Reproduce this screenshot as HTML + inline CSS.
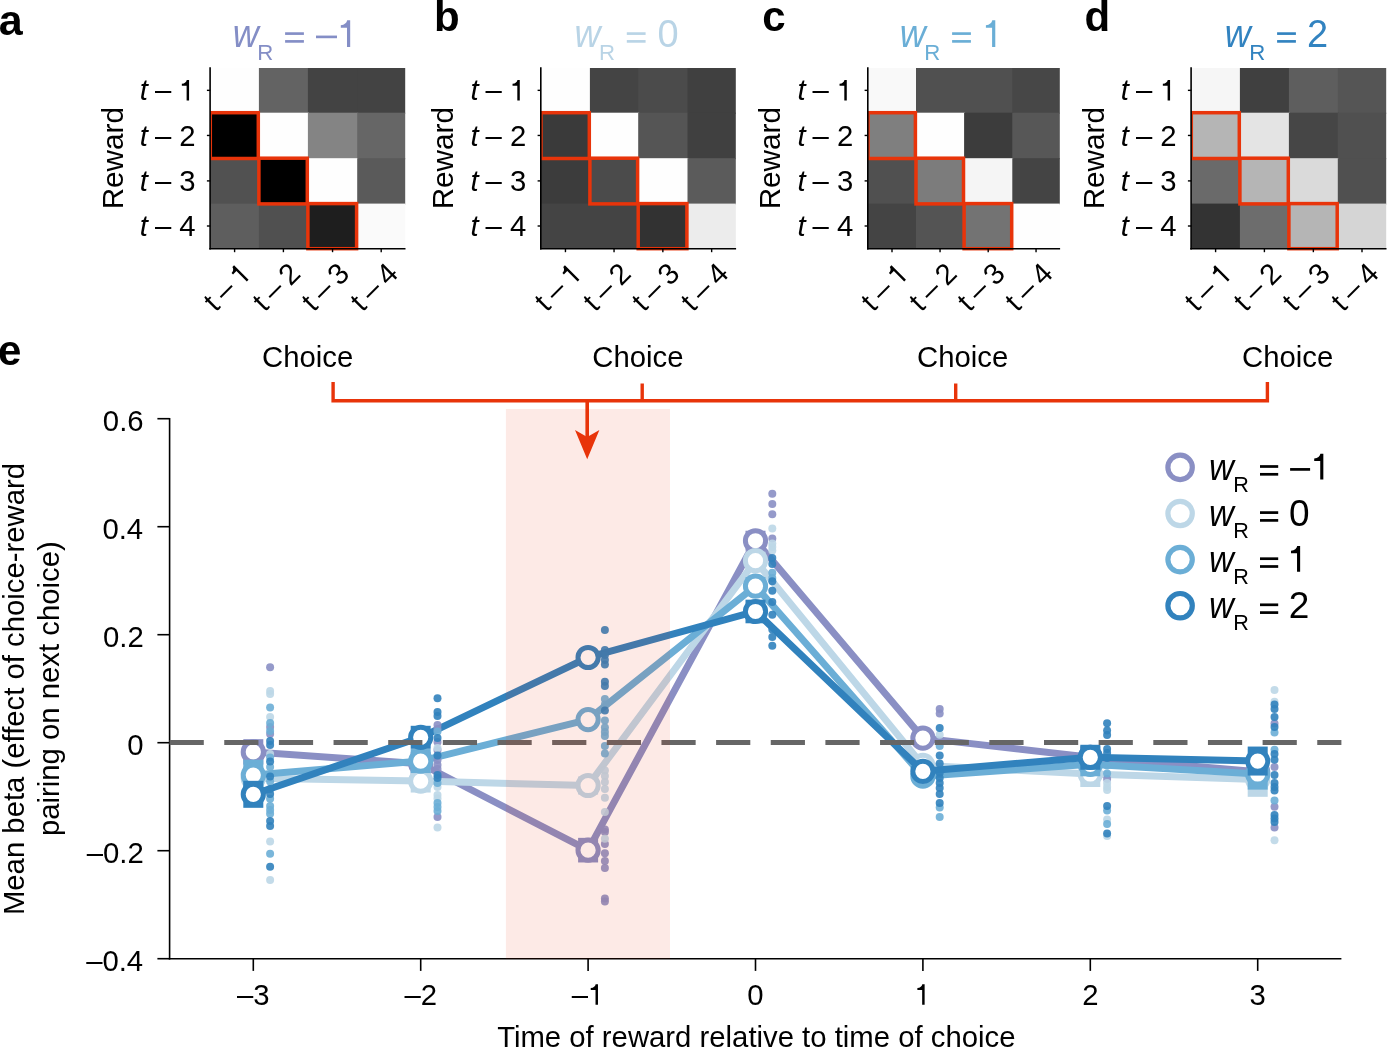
<!DOCTYPE html>
<html><head><meta charset="utf-8"><style>
html,body{margin:0;padding:0;background:#fff;}
svg{display:block;will-change:transform;}
text{font-family:"Liberation Sans", sans-serif;}
</style></head><body>
<svg width="1387" height="1048" viewBox="0 0 1387 1048" font-family="&quot;Liberation Sans&quot;, sans-serif">
<rect width="1387" height="1048" fill="#fff"/>
<rect x="210.30" y="68.00" width="49.60" height="45.70" fill="rgb(254,254,254)"/>
<rect x="258.90" y="68.00" width="50.00" height="45.70" fill="rgb(99,99,99)"/>
<rect x="307.90" y="68.00" width="50.30" height="45.70" fill="rgb(67,67,67)"/>
<rect x="357.20" y="68.00" width="48.00" height="45.70" fill="rgb(67,67,67)"/>
<rect x="210.30" y="112.70" width="49.60" height="46.50" fill="rgb(0,0,0)"/>
<rect x="258.90" y="112.70" width="50.00" height="46.50" fill="rgb(254,254,254)"/>
<rect x="307.90" y="112.70" width="50.30" height="46.50" fill="rgb(132,132,132)"/>
<rect x="357.20" y="112.70" width="48.00" height="46.50" fill="rgb(102,102,102)"/>
<rect x="210.30" y="158.20" width="49.60" height="46.40" fill="rgb(81,81,81)"/>
<rect x="258.90" y="158.20" width="50.00" height="46.40" fill="rgb(0,0,0)"/>
<rect x="307.90" y="158.20" width="50.30" height="46.40" fill="rgb(254,254,254)"/>
<rect x="357.20" y="158.20" width="48.00" height="46.40" fill="rgb(90,90,90)"/>
<rect x="210.30" y="203.60" width="49.60" height="44.80" fill="rgb(94,94,94)"/>
<rect x="258.90" y="203.60" width="50.00" height="44.80" fill="rgb(80,80,80)"/>
<rect x="307.90" y="203.60" width="50.30" height="44.80" fill="rgb(30,30,30)"/>
<rect x="357.20" y="203.60" width="48.00" height="44.80" fill="rgb(250,250,250)"/>
<clipPath id="clipa"><rect x="210.30" y="0" width="300" height="300"/></clipPath>
<g clip-path="url(#clipa)">
<rect x="210.30" y="112.70" width="48.00" height="45.80" fill="none" stroke="#e8340a" stroke-width="3.5"/>
<rect x="258.90" y="158.20" width="48.40" height="45.70" fill="none" stroke="#e8340a" stroke-width="3.5"/>
<rect x="307.90" y="203.60" width="48.70" height="45.10" fill="none" stroke="#e8340a" stroke-width="3.5"/>
</g>
<line x1="210.10" y1="67.3" x2="210.10" y2="249.4" stroke="#000" stroke-width="1.6"/>
<line x1="209.30" y1="248.7" x2="405.50" y2="248.7" stroke="#000" stroke-width="1.6"/>
<line x1="206.90" y1="90.35" x2="210.30" y2="90.35" stroke="#000" stroke-width="1.4"/>
<line x1="206.90" y1="135.45" x2="210.30" y2="135.45" stroke="#000" stroke-width="1.4"/>
<line x1="206.90" y1="180.90" x2="210.30" y2="180.90" stroke="#000" stroke-width="1.4"/>
<line x1="206.90" y1="226.00" x2="210.30" y2="226.00" stroke="#000" stroke-width="1.4"/>
<line x1="234.60" y1="248.7" x2="234.60" y2="252.2" stroke="#000" stroke-width="1.4"/>
<line x1="283.40" y1="248.7" x2="283.40" y2="252.2" stroke="#000" stroke-width="1.4"/>
<line x1="332.55" y1="248.7" x2="332.55" y2="252.2" stroke="#000" stroke-width="1.4"/>
<line x1="381.20" y1="248.7" x2="381.20" y2="252.2" stroke="#000" stroke-width="1.4"/>
<path d="M0.247,0 L0.247,0.70 L0.168,0.70 C0.153,0.628 0.100,0.578 0,0.572 L0,0.502 L0.163,0.502 L0.163,0 Z" fill="#000" transform="translate(181.84,100.45) scale(29.3,-29.3)"/>
<text x="154.90" y="100.45" font-size="29.3">–</text>
<text x="139.76" y="100.45" font-size="29.3" font-weight="normal" font-style="italic" fill="#000" >t</text>
<text x="179.20" y="145.55" font-size="29.3">2</text>
<text x="154.90" y="145.55" font-size="29.3">–</text>
<text x="139.76" y="145.55" font-size="29.3" font-weight="normal" font-style="italic" fill="#000" >t</text>
<text x="179.20" y="191.00" font-size="29.3">3</text>
<text x="154.90" y="191.00" font-size="29.3">–</text>
<text x="139.76" y="191.00" font-size="29.3" font-weight="normal" font-style="italic" fill="#000" >t</text>
<text x="179.20" y="236.10" font-size="29.3">4</text>
<text x="154.90" y="236.10" font-size="29.3">–</text>
<text x="139.76" y="236.10" font-size="29.3" font-weight="normal" font-style="italic" fill="#000" >t</text>
<g transform="translate(253.10,275.20) rotate(-45)">
<text x="-53.05" y="0" font-size="29.3">t</text>
<text x="-38.75" y="0" font-size="29.3">–</text>
<path d="M0.247,0 L0.247,0.70 L0.168,0.70 C0.153,0.628 0.100,0.578 0,0.572 L0,0.502 L0.163,0.502 L0.163,0 Z" fill="#000" transform="translate(-13.66,0.00) scale(29.3,-29.3)"/>
</g>
<g transform="translate(301.90,275.20) rotate(-45)">
<text x="-53.05" y="0" font-size="29.3">t</text>
<text x="-38.75" y="0" font-size="29.3">–</text>
<text x="-16.3" y="0" font-size="29.3">2</text>
</g>
<g transform="translate(351.05,275.20) rotate(-45)">
<text x="-53.05" y="0" font-size="29.3">t</text>
<text x="-38.75" y="0" font-size="29.3">–</text>
<text x="-16.3" y="0" font-size="29.3">3</text>
</g>
<g transform="translate(399.70,275.20) rotate(-45)">
<text x="-53.05" y="0" font-size="29.3">t</text>
<text x="-38.75" y="0" font-size="29.3">–</text>
<text x="-16.3" y="0" font-size="29.3">4</text>
</g>
<text x="0" y="0" font-size="29.7" text-anchor="middle" transform="translate(122.50,158.20) rotate(-90)">Reward</text>
<rect x="541.00" y="68.00" width="49.90" height="45.70" fill="rgb(254,254,254)"/>
<rect x="589.90" y="68.00" width="49.30" height="45.70" fill="rgb(68,68,68)"/>
<rect x="638.20" y="68.00" width="50.30" height="45.70" fill="rgb(75,75,75)"/>
<rect x="687.50" y="68.00" width="48.30" height="45.70" fill="rgb(64,64,64)"/>
<rect x="541.00" y="112.70" width="49.90" height="46.50" fill="rgb(58,58,58)"/>
<rect x="589.90" y="112.70" width="49.30" height="46.50" fill="rgb(254,254,254)"/>
<rect x="638.20" y="112.70" width="50.30" height="46.50" fill="rgb(85,85,85)"/>
<rect x="687.50" y="112.70" width="48.30" height="46.50" fill="rgb(64,64,64)"/>
<rect x="541.00" y="158.20" width="49.90" height="46.40" fill="rgb(60,60,60)"/>
<rect x="589.90" y="158.20" width="49.30" height="46.40" fill="rgb(75,75,75)"/>
<rect x="638.20" y="158.20" width="50.30" height="46.40" fill="rgb(254,254,254)"/>
<rect x="687.50" y="158.20" width="48.30" height="46.40" fill="rgb(91,91,91)"/>
<rect x="541.00" y="203.60" width="49.90" height="44.80" fill="rgb(68,68,68)"/>
<rect x="589.90" y="203.60" width="49.30" height="44.80" fill="rgb(68,68,68)"/>
<rect x="638.20" y="203.60" width="50.30" height="44.80" fill="rgb(50,50,50)"/>
<rect x="687.50" y="203.60" width="48.30" height="44.80" fill="rgb(236,236,236)"/>
<clipPath id="clipb"><rect x="541.00" y="0" width="300" height="300"/></clipPath>
<g clip-path="url(#clipb)">
<rect x="541.00" y="112.70" width="48.30" height="45.80" fill="none" stroke="#e8340a" stroke-width="3.5"/>
<rect x="589.90" y="158.20" width="47.70" height="45.70" fill="none" stroke="#e8340a" stroke-width="3.5"/>
<rect x="638.20" y="203.60" width="48.70" height="45.10" fill="none" stroke="#e8340a" stroke-width="3.5"/>
</g>
<line x1="540.80" y1="67.3" x2="540.80" y2="249.4" stroke="#000" stroke-width="1.6"/>
<line x1="540.00" y1="248.7" x2="736.10" y2="248.7" stroke="#000" stroke-width="1.6"/>
<line x1="537.60" y1="90.35" x2="541.00" y2="90.35" stroke="#000" stroke-width="1.4"/>
<line x1="537.60" y1="135.45" x2="541.00" y2="135.45" stroke="#000" stroke-width="1.4"/>
<line x1="537.60" y1="180.90" x2="541.00" y2="180.90" stroke="#000" stroke-width="1.4"/>
<line x1="537.60" y1="226.00" x2="541.00" y2="226.00" stroke="#000" stroke-width="1.4"/>
<line x1="565.45" y1="248.7" x2="565.45" y2="252.2" stroke="#000" stroke-width="1.4"/>
<line x1="614.05" y1="248.7" x2="614.05" y2="252.2" stroke="#000" stroke-width="1.4"/>
<line x1="662.85" y1="248.7" x2="662.85" y2="252.2" stroke="#000" stroke-width="1.4"/>
<line x1="711.65" y1="248.7" x2="711.65" y2="252.2" stroke="#000" stroke-width="1.4"/>
<path d="M0.247,0 L0.247,0.70 L0.168,0.70 C0.153,0.628 0.100,0.578 0,0.572 L0,0.502 L0.163,0.502 L0.163,0 Z" fill="#000" transform="translate(512.54,100.45) scale(29.3,-29.3)"/>
<text x="485.60" y="100.45" font-size="29.3">–</text>
<text x="470.46" y="100.45" font-size="29.3" font-weight="normal" font-style="italic" fill="#000" >t</text>
<text x="509.90" y="145.55" font-size="29.3">2</text>
<text x="485.60" y="145.55" font-size="29.3">–</text>
<text x="470.46" y="145.55" font-size="29.3" font-weight="normal" font-style="italic" fill="#000" >t</text>
<text x="509.90" y="191.00" font-size="29.3">3</text>
<text x="485.60" y="191.00" font-size="29.3">–</text>
<text x="470.46" y="191.00" font-size="29.3" font-weight="normal" font-style="italic" fill="#000" >t</text>
<text x="509.90" y="236.10" font-size="29.3">4</text>
<text x="485.60" y="236.10" font-size="29.3">–</text>
<text x="470.46" y="236.10" font-size="29.3" font-weight="normal" font-style="italic" fill="#000" >t</text>
<g transform="translate(583.95,275.20) rotate(-45)">
<text x="-53.05" y="0" font-size="29.3">t</text>
<text x="-38.75" y="0" font-size="29.3">–</text>
<path d="M0.247,0 L0.247,0.70 L0.168,0.70 C0.153,0.628 0.100,0.578 0,0.572 L0,0.502 L0.163,0.502 L0.163,0 Z" fill="#000" transform="translate(-13.66,0.00) scale(29.3,-29.3)"/>
</g>
<g transform="translate(632.55,275.20) rotate(-45)">
<text x="-53.05" y="0" font-size="29.3">t</text>
<text x="-38.75" y="0" font-size="29.3">–</text>
<text x="-16.3" y="0" font-size="29.3">2</text>
</g>
<g transform="translate(681.35,275.20) rotate(-45)">
<text x="-53.05" y="0" font-size="29.3">t</text>
<text x="-38.75" y="0" font-size="29.3">–</text>
<text x="-16.3" y="0" font-size="29.3">3</text>
</g>
<g transform="translate(730.15,275.20) rotate(-45)">
<text x="-53.05" y="0" font-size="29.3">t</text>
<text x="-38.75" y="0" font-size="29.3">–</text>
<text x="-16.3" y="0" font-size="29.3">4</text>
</g>
<text x="0" y="0" font-size="29.7" text-anchor="middle" transform="translate(453.20,158.20) rotate(-90)">Reward</text>
<rect x="868.00" y="68.00" width="49.00" height="45.70" fill="rgb(249,249,249)"/>
<rect x="916.00" y="68.00" width="49.10" height="45.70" fill="rgb(80,80,80)"/>
<rect x="964.10" y="68.00" width="49.20" height="45.70" fill="rgb(80,80,80)"/>
<rect x="1012.30" y="68.00" width="47.50" height="45.70" fill="rgb(71,71,71)"/>
<rect x="868.00" y="112.70" width="49.00" height="46.50" fill="rgb(127,127,127)"/>
<rect x="916.00" y="112.70" width="49.10" height="46.50" fill="rgb(254,254,254)"/>
<rect x="964.10" y="112.70" width="49.20" height="46.50" fill="rgb(60,60,60)"/>
<rect x="1012.30" y="112.70" width="47.50" height="46.50" fill="rgb(87,87,87)"/>
<rect x="868.00" y="158.20" width="49.00" height="46.40" fill="rgb(80,80,80)"/>
<rect x="916.00" y="158.20" width="49.10" height="46.40" fill="rgb(124,124,124)"/>
<rect x="964.10" y="158.20" width="49.20" height="46.40" fill="rgb(245,245,245)"/>
<rect x="1012.30" y="158.20" width="47.50" height="46.40" fill="rgb(68,68,68)"/>
<rect x="868.00" y="203.60" width="49.00" height="44.80" fill="rgb(68,68,68)"/>
<rect x="916.00" y="203.60" width="49.10" height="44.80" fill="rgb(84,84,84)"/>
<rect x="964.10" y="203.60" width="49.20" height="44.80" fill="rgb(115,115,115)"/>
<rect x="1012.30" y="203.60" width="47.50" height="44.80" fill="rgb(254,254,254)"/>
<clipPath id="clipc"><rect x="868.00" y="0" width="300" height="300"/></clipPath>
<g clip-path="url(#clipc)">
<rect x="868.00" y="112.70" width="47.40" height="45.80" fill="none" stroke="#e8340a" stroke-width="3.5"/>
<rect x="916.00" y="158.20" width="47.50" height="45.70" fill="none" stroke="#e8340a" stroke-width="3.5"/>
<rect x="964.10" y="203.60" width="47.60" height="45.10" fill="none" stroke="#e8340a" stroke-width="3.5"/>
</g>
<line x1="867.80" y1="67.3" x2="867.80" y2="249.4" stroke="#000" stroke-width="1.6"/>
<line x1="867.00" y1="248.7" x2="1060.10" y2="248.7" stroke="#000" stroke-width="1.6"/>
<line x1="864.60" y1="90.35" x2="868.00" y2="90.35" stroke="#000" stroke-width="1.4"/>
<line x1="864.60" y1="135.45" x2="868.00" y2="135.45" stroke="#000" stroke-width="1.4"/>
<line x1="864.60" y1="180.90" x2="868.00" y2="180.90" stroke="#000" stroke-width="1.4"/>
<line x1="864.60" y1="226.00" x2="868.00" y2="226.00" stroke="#000" stroke-width="1.4"/>
<line x1="892.00" y1="248.7" x2="892.00" y2="252.2" stroke="#000" stroke-width="1.4"/>
<line x1="940.05" y1="248.7" x2="940.05" y2="252.2" stroke="#000" stroke-width="1.4"/>
<line x1="988.20" y1="248.7" x2="988.20" y2="252.2" stroke="#000" stroke-width="1.4"/>
<line x1="1036.05" y1="248.7" x2="1036.05" y2="252.2" stroke="#000" stroke-width="1.4"/>
<path d="M0.247,0 L0.247,0.70 L0.168,0.70 C0.153,0.628 0.100,0.578 0,0.572 L0,0.502 L0.163,0.502 L0.163,0 Z" fill="#000" transform="translate(839.54,100.45) scale(29.3,-29.3)"/>
<text x="812.60" y="100.45" font-size="29.3">–</text>
<text x="797.46" y="100.45" font-size="29.3" font-weight="normal" font-style="italic" fill="#000" >t</text>
<text x="836.90" y="145.55" font-size="29.3">2</text>
<text x="812.60" y="145.55" font-size="29.3">–</text>
<text x="797.46" y="145.55" font-size="29.3" font-weight="normal" font-style="italic" fill="#000" >t</text>
<text x="836.90" y="191.00" font-size="29.3">3</text>
<text x="812.60" y="191.00" font-size="29.3">–</text>
<text x="797.46" y="191.00" font-size="29.3" font-weight="normal" font-style="italic" fill="#000" >t</text>
<text x="836.90" y="236.10" font-size="29.3">4</text>
<text x="812.60" y="236.10" font-size="29.3">–</text>
<text x="797.46" y="236.10" font-size="29.3" font-weight="normal" font-style="italic" fill="#000" >t</text>
<g transform="translate(910.50,275.20) rotate(-45)">
<text x="-53.05" y="0" font-size="29.3">t</text>
<text x="-38.75" y="0" font-size="29.3">–</text>
<path d="M0.247,0 L0.247,0.70 L0.168,0.70 C0.153,0.628 0.100,0.578 0,0.572 L0,0.502 L0.163,0.502 L0.163,0 Z" fill="#000" transform="translate(-13.66,0.00) scale(29.3,-29.3)"/>
</g>
<g transform="translate(958.55,275.20) rotate(-45)">
<text x="-53.05" y="0" font-size="29.3">t</text>
<text x="-38.75" y="0" font-size="29.3">–</text>
<text x="-16.3" y="0" font-size="29.3">2</text>
</g>
<g transform="translate(1006.70,275.20) rotate(-45)">
<text x="-53.05" y="0" font-size="29.3">t</text>
<text x="-38.75" y="0" font-size="29.3">–</text>
<text x="-16.3" y="0" font-size="29.3">3</text>
</g>
<g transform="translate(1054.55,275.20) rotate(-45)">
<text x="-53.05" y="0" font-size="29.3">t</text>
<text x="-38.75" y="0" font-size="29.3">–</text>
<text x="-16.3" y="0" font-size="29.3">4</text>
</g>
<text x="0" y="0" font-size="29.7" text-anchor="middle" transform="translate(780.20,158.20) rotate(-90)">Reward</text>
<rect x="1191.30" y="68.00" width="49.60" height="45.70" fill="rgb(246,246,246)"/>
<rect x="1239.90" y="68.00" width="50.00" height="45.70" fill="rgb(64,64,64)"/>
<rect x="1288.90" y="68.00" width="49.90" height="45.70" fill="rgb(94,94,94)"/>
<rect x="1337.80" y="68.00" width="48.40" height="45.70" fill="rgb(85,85,85)"/>
<rect x="1191.30" y="112.70" width="49.60" height="46.50" fill="rgb(181,181,181)"/>
<rect x="1239.90" y="112.70" width="50.00" height="46.50" fill="rgb(228,228,228)"/>
<rect x="1288.90" y="112.70" width="49.90" height="46.50" fill="rgb(70,70,70)"/>
<rect x="1337.80" y="112.70" width="48.40" height="46.50" fill="rgb(80,80,80)"/>
<rect x="1191.30" y="158.20" width="49.60" height="46.40" fill="rgb(106,106,106)"/>
<rect x="1239.90" y="158.20" width="50.00" height="46.40" fill="rgb(181,181,181)"/>
<rect x="1288.90" y="158.20" width="49.90" height="46.40" fill="rgb(218,218,218)"/>
<rect x="1337.80" y="158.20" width="48.40" height="46.40" fill="rgb(80,80,80)"/>
<rect x="1191.30" y="203.60" width="49.60" height="44.80" fill="rgb(51,51,51)"/>
<rect x="1239.90" y="203.60" width="50.00" height="44.80" fill="rgb(109,109,109)"/>
<rect x="1288.90" y="203.60" width="49.90" height="44.80" fill="rgb(181,181,181)"/>
<rect x="1337.80" y="203.60" width="48.40" height="44.80" fill="rgb(213,213,213)"/>
<clipPath id="clipd"><rect x="1191.30" y="0" width="300" height="300"/></clipPath>
<g clip-path="url(#clipd)">
<rect x="1191.30" y="112.70" width="48.00" height="45.80" fill="none" stroke="#e8340a" stroke-width="3.5"/>
<rect x="1239.90" y="158.20" width="48.40" height="45.70" fill="none" stroke="#e8340a" stroke-width="3.5"/>
<rect x="1288.90" y="203.60" width="48.30" height="45.10" fill="none" stroke="#e8340a" stroke-width="3.5"/>
</g>
<line x1="1191.10" y1="67.3" x2="1191.10" y2="249.4" stroke="#000" stroke-width="1.6"/>
<line x1="1190.30" y1="248.7" x2="1386.50" y2="248.7" stroke="#000" stroke-width="1.6"/>
<line x1="1187.90" y1="90.35" x2="1191.30" y2="90.35" stroke="#000" stroke-width="1.4"/>
<line x1="1187.90" y1="135.45" x2="1191.30" y2="135.45" stroke="#000" stroke-width="1.4"/>
<line x1="1187.90" y1="180.90" x2="1191.30" y2="180.90" stroke="#000" stroke-width="1.4"/>
<line x1="1187.90" y1="226.00" x2="1191.30" y2="226.00" stroke="#000" stroke-width="1.4"/>
<line x1="1215.60" y1="248.7" x2="1215.60" y2="252.2" stroke="#000" stroke-width="1.4"/>
<line x1="1264.40" y1="248.7" x2="1264.40" y2="252.2" stroke="#000" stroke-width="1.4"/>
<line x1="1313.35" y1="248.7" x2="1313.35" y2="252.2" stroke="#000" stroke-width="1.4"/>
<line x1="1362.00" y1="248.7" x2="1362.00" y2="252.2" stroke="#000" stroke-width="1.4"/>
<path d="M0.247,0 L0.247,0.70 L0.168,0.70 C0.153,0.628 0.100,0.578 0,0.572 L0,0.502 L0.163,0.502 L0.163,0 Z" fill="#000" transform="translate(1162.84,100.45) scale(29.3,-29.3)"/>
<text x="1135.90" y="100.45" font-size="29.3">–</text>
<text x="1120.76" y="100.45" font-size="29.3" font-weight="normal" font-style="italic" fill="#000" >t</text>
<text x="1160.20" y="145.55" font-size="29.3">2</text>
<text x="1135.90" y="145.55" font-size="29.3">–</text>
<text x="1120.76" y="145.55" font-size="29.3" font-weight="normal" font-style="italic" fill="#000" >t</text>
<text x="1160.20" y="191.00" font-size="29.3">3</text>
<text x="1135.90" y="191.00" font-size="29.3">–</text>
<text x="1120.76" y="191.00" font-size="29.3" font-weight="normal" font-style="italic" fill="#000" >t</text>
<text x="1160.20" y="236.10" font-size="29.3">4</text>
<text x="1135.90" y="236.10" font-size="29.3">–</text>
<text x="1120.76" y="236.10" font-size="29.3" font-weight="normal" font-style="italic" fill="#000" >t</text>
<g transform="translate(1234.10,275.20) rotate(-45)">
<text x="-53.05" y="0" font-size="29.3">t</text>
<text x="-38.75" y="0" font-size="29.3">–</text>
<path d="M0.247,0 L0.247,0.70 L0.168,0.70 C0.153,0.628 0.100,0.578 0,0.572 L0,0.502 L0.163,0.502 L0.163,0 Z" fill="#000" transform="translate(-13.66,0.00) scale(29.3,-29.3)"/>
</g>
<g transform="translate(1282.90,275.20) rotate(-45)">
<text x="-53.05" y="0" font-size="29.3">t</text>
<text x="-38.75" y="0" font-size="29.3">–</text>
<text x="-16.3" y="0" font-size="29.3">2</text>
</g>
<g transform="translate(1331.85,275.20) rotate(-45)">
<text x="-53.05" y="0" font-size="29.3">t</text>
<text x="-38.75" y="0" font-size="29.3">–</text>
<text x="-16.3" y="0" font-size="29.3">3</text>
</g>
<g transform="translate(1380.50,275.20) rotate(-45)">
<text x="-53.05" y="0" font-size="29.3">t</text>
<text x="-38.75" y="0" font-size="29.3">–</text>
<text x="-16.3" y="0" font-size="29.3">4</text>
</g>
<text x="0" y="0" font-size="29.7" text-anchor="middle" transform="translate(1103.50,158.20) rotate(-90)">Reward</text>
<text x="-1.25" y="35.20" font-size="43" font-weight="bold" font-style="normal" fill="#000" >a</text>
<text x="434.03" y="30.50" font-size="42" font-weight="bold" font-style="normal" fill="#000" >b</text>
<text x="762.26" y="30.70" font-size="42" font-weight="bold" font-style="normal" fill="#000" >c</text>
<text x="1084.48" y="30.50" font-size="42" font-weight="bold" font-style="normal" fill="#000" >d</text>
<text x="-2.14" y="365.30" font-size="42" font-weight="bold" font-style="normal" fill="#000" >e</text>
<text x="0" y="0" font-size="38" font-style="italic" fill="#848ec6" transform="translate(234.60,47.30) scale(0.95,1) translate(-1.90,0)">w</text>
<text x="257.28" y="59.60" font-size="22.2" font-weight="normal" font-style="normal" fill="#848ec6" >R</text>
<rect x="285.10" y="32.27" width="18.80" height="2.65" fill="#848ec6"/>
<rect x="285.10" y="40.07" width="18.80" height="2.65" fill="#848ec6"/>
<rect x="316.00" y="35.57" width="21.00" height="2.65" fill="#848ec6"/>
<path d="M0.247,0 L0.247,0.70 L0.168,0.70 C0.153,0.628 0.100,0.578 0,0.572 L0,0.502 L0.163,0.502 L0.163,0 Z" fill="#848ec6" transform="translate(340.80,46.90) scale(38,-38)"/>
<text x="0" y="0" font-size="38" font-style="italic" fill="#b9d4e6" transform="translate(576.30,47.30) scale(0.95,1) translate(-1.90,0)">w</text>
<text x="598.98" y="59.60" font-size="22.2" font-weight="normal" font-style="normal" fill="#b9d4e6" >R</text>
<rect x="626.80" y="32.27" width="18.80" height="2.65" fill="#b9d4e6"/>
<rect x="626.80" y="40.07" width="18.80" height="2.65" fill="#b9d4e6"/>
<text x="657.42" y="47.30" font-size="38" font-weight="normal" font-style="normal" fill="#b9d4e6" >0</text>
<text x="0" y="0" font-size="38" font-style="italic" fill="#6aaed6" transform="translate(901.60,47.30) scale(0.95,1) translate(-1.90,0)">w</text>
<text x="924.28" y="59.60" font-size="22.2" font-weight="normal" font-style="normal" fill="#6aaed6" >R</text>
<rect x="952.10" y="32.27" width="18.80" height="2.65" fill="#6aaed6"/>
<rect x="952.10" y="40.07" width="18.80" height="2.65" fill="#6aaed6"/>
<path d="M0.247,0 L0.247,0.70 L0.168,0.70 C0.153,0.628 0.100,0.578 0,0.572 L0,0.502 L0.163,0.502 L0.163,0 Z" fill="#6aaed6" transform="translate(985.90,46.90) scale(38,-38)"/>
<text x="0" y="0" font-size="38" font-style="italic" fill="#3283c0" transform="translate(1226.60,47.30) scale(0.95,1) translate(-1.90,0)">w</text>
<text x="1249.28" y="59.60" font-size="22.2" font-weight="normal" font-style="normal" fill="#3283c0" >R</text>
<rect x="1277.10" y="32.27" width="18.80" height="2.65" fill="#3283c0"/>
<rect x="1277.10" y="40.07" width="18.80" height="2.65" fill="#3283c0"/>
<text x="1307.00" y="47.30" font-size="38" font-weight="normal" font-style="normal" fill="#3283c0" >2</text>
<text x="261.99" y="367.40" font-size="29.3" font-weight="normal" font-style="normal" fill="#000" >Choice</text>
<text x="592.29" y="367.40" font-size="29.3" font-weight="normal" font-style="normal" fill="#000" >Choice</text>
<text x="917.09" y="367.40" font-size="29.3" font-weight="normal" font-style="normal" fill="#000" >Choice</text>
<text x="1241.99" y="367.40" font-size="29.3" font-weight="normal" font-style="normal" fill="#000" >Choice</text>
<line x1="169.6" y1="418.0" x2="169.6" y2="959.4" stroke="#000" stroke-width="1.6"/>
<line x1="168.8" y1="958.7" x2="1341.4" y2="958.7" stroke="#000" stroke-width="1.6"/>
<line x1="157.4" y1="418.70" x2="169.6" y2="418.70" stroke="#000" stroke-width="1.6"/>
<text x="102.86" y="430.60" font-size="29.3" font-weight="normal" font-style="normal" fill="#000" >0.6</text>
<line x1="157.4" y1="526.70" x2="169.6" y2="526.70" stroke="#000" stroke-width="1.6"/>
<text x="102.42" y="538.60" font-size="29.3" font-weight="normal" font-style="normal" fill="#000" >0.4</text>
<line x1="157.4" y1="634.70" x2="169.6" y2="634.70" stroke="#000" stroke-width="1.6"/>
<text x="103.04" y="646.60" font-size="29.3" font-weight="normal" font-style="normal" fill="#000" >0.2</text>
<line x1="157.4" y1="742.70" x2="169.6" y2="742.70" stroke="#000" stroke-width="1.6"/>
<text x="127.15" y="754.60" font-size="29.3" font-weight="normal" font-style="normal" fill="#000" >0</text>
<line x1="157.4" y1="850.70" x2="169.6" y2="850.70" stroke="#000" stroke-width="1.6"/>
<text x="86.75" y="862.60" font-size="29.3" font-weight="normal" font-style="normal" fill="#000" >–0.2</text>
<line x1="157.4" y1="958.70" x2="169.6" y2="958.70" stroke="#000" stroke-width="1.6"/>
<text x="86.13" y="970.60" font-size="29.3" font-weight="normal" font-style="normal" fill="#000" >–0.4</text>
<line x1="253.30" y1="958.7" x2="253.30" y2="970.9" stroke="#000" stroke-width="1.6"/>
<text x="237.00" y="1004.8" font-size="29.3">–</text>
<text x="253.30" y="1004.8" font-size="29.3">3</text>
<line x1="420.70" y1="958.7" x2="420.70" y2="970.9" stroke="#000" stroke-width="1.6"/>
<text x="404.40" y="1004.8" font-size="29.3">–</text>
<text x="420.70" y="1004.8" font-size="29.3">2</text>
<line x1="588.10" y1="958.7" x2="588.10" y2="970.9" stroke="#000" stroke-width="1.6"/>
<text x="571.80" y="1004.8" font-size="29.3">–</text>
<path d="M0.247,0 L0.247,0.70 L0.168,0.70 C0.153,0.628 0.100,0.578 0,0.572 L0,0.502 L0.163,0.502 L0.163,0 Z" fill="#000" transform="translate(590.74,1004.80) scale(29.3,-29.3)"/>
<line x1="755.50" y1="958.7" x2="755.50" y2="970.9" stroke="#000" stroke-width="1.6"/>
<text x="747.35" y="1004.8" font-size="29.3">0</text>
<line x1="922.90" y1="958.7" x2="922.90" y2="970.9" stroke="#000" stroke-width="1.6"/>
<path d="M0.247,0 L0.247,0.70 L0.168,0.70 C0.153,0.628 0.100,0.578 0,0.572 L0,0.502 L0.163,0.502 L0.163,0 Z" fill="#000" transform="translate(917.39,1004.80) scale(29.3,-29.3)"/>
<line x1="1090.30" y1="958.7" x2="1090.30" y2="970.9" stroke="#000" stroke-width="1.6"/>
<text x="1082.15" y="1004.8" font-size="29.3">2</text>
<line x1="1257.70" y1="958.7" x2="1257.70" y2="970.9" stroke="#000" stroke-width="1.6"/>
<text x="1249.55" y="1004.8" font-size="29.3">3</text>
<text x="497.13" y="1047.20" font-size="29.3" font-weight="normal" font-style="normal" fill="#000" >Time of reward relative to time of choice</text>
<text x="0" y="0" font-size="29.3" text-anchor="middle" transform="translate(24.0,689.0) rotate(-90)">Mean beta (effect of choice-reward</text>
<text x="0" y="0" font-size="29.3" text-anchor="middle" transform="translate(59.0,688.7) rotate(-90)">pairing on next choice)</text>
<polyline points="253.30,751.88 420.70,763.76 588.10,850.16 755.50,540.74 922.90,738.11 1090.30,757.28 1257.70,771.86" fill="none" stroke="#8a8fc4" stroke-width="7" stroke-linejoin="round"/>
<rect x="243.30" y="739.18" width="20" height="25.40" fill="#8a8fc4"/>
<circle cx="253.30" cy="751.88" r="10.1" fill="#fff" stroke="#8a8fc4" stroke-width="5"/>
<rect x="410.70" y="751.76" width="20" height="24.00" fill="#8a8fc4"/>
<circle cx="420.70" cy="763.76" r="10.1" fill="#fff" stroke="#8a8fc4" stroke-width="5"/>
<rect x="578.10" y="837.86" width="20" height="24.60" fill="#8a8fc4"/>
<circle cx="588.10" cy="850.16" r="10.1" fill="#fff" stroke="#8a8fc4" stroke-width="5"/>
<rect x="745.50" y="530.74" width="20" height="20.00" fill="#8a8fc4"/>
<circle cx="755.50" cy="540.74" r="10.1" fill="#fff" stroke="#8a8fc4" stroke-width="5"/>
<rect x="912.90" y="732.11" width="20" height="12.00" fill="#8a8fc4"/>
<circle cx="922.90" cy="738.11" r="10.1" fill="#fff" stroke="#8a8fc4" stroke-width="5"/>
<rect x="1080.30" y="746.28" width="20" height="22.00" fill="#8a8fc4"/>
<circle cx="1090.30" cy="757.28" r="10.1" fill="#fff" stroke="#8a8fc4" stroke-width="5"/>
<rect x="1247.70" y="759.86" width="20" height="24.00" fill="#8a8fc4"/>
<circle cx="1257.70" cy="771.86" r="10.1" fill="#fff" stroke="#8a8fc4" stroke-width="5"/>
<polyline points="253.30,778.34 420.70,781.04 588.10,785.52 755.50,560.72 922.90,765.38 1090.30,774.02 1257.70,779.42" fill="none" stroke="#bdd7e7" stroke-width="7" stroke-linejoin="round"/>
<rect x="243.30" y="766.34" width="20" height="24.00" fill="#bdd7e7"/>
<circle cx="253.30" cy="778.34" r="10.1" fill="#fff" stroke="#bdd7e7" stroke-width="5"/>
<rect x="410.70" y="769.54" width="20" height="23.00" fill="#bdd7e7"/>
<circle cx="420.70" cy="781.04" r="10.1" fill="#fff" stroke="#bdd7e7" stroke-width="5"/>
<rect x="578.10" y="776.52" width="20" height="18.00" fill="#bdd7e7"/>
<circle cx="588.10" cy="785.52" r="10.1" fill="#fff" stroke="#bdd7e7" stroke-width="5"/>
<rect x="745.50" y="551.72" width="20" height="18.00" fill="#bdd7e7"/>
<circle cx="755.50" cy="560.72" r="10.1" fill="#fff" stroke="#bdd7e7" stroke-width="5"/>
<rect x="912.90" y="758.38" width="20" height="14.00" fill="#bdd7e7"/>
<circle cx="922.90" cy="765.38" r="10.1" fill="#fff" stroke="#bdd7e7" stroke-width="5"/>
<rect x="1080.30" y="761.02" width="20" height="26.00" fill="#bdd7e7"/>
<circle cx="1090.30" cy="774.02" r="10.1" fill="#fff" stroke="#bdd7e7" stroke-width="5"/>
<rect x="1247.70" y="762.02" width="20" height="34.80" fill="#bdd7e7"/>
<circle cx="1257.70" cy="779.42" r="10.1" fill="#fff" stroke="#bdd7e7" stroke-width="5"/>
<polyline points="253.30,775.10 420.70,761.06 588.10,719.59 755.50,586.10 922.90,776.18 1090.30,764.30 1257.70,774.02" fill="none" stroke="#6baed6" stroke-width="7" stroke-linejoin="round"/>
<rect x="243.30" y="759.70" width="20" height="30.80" fill="#6baed6"/>
<circle cx="253.30" cy="775.10" r="10.1" fill="#fff" stroke="#6baed6" stroke-width="5"/>
<rect x="410.70" y="749.06" width="20" height="24.00" fill="#6baed6"/>
<circle cx="420.70" cy="761.06" r="10.1" fill="#fff" stroke="#6baed6" stroke-width="5"/>
<rect x="578.10" y="713.59" width="20" height="12.00" fill="#6baed6"/>
<circle cx="588.10" cy="719.59" r="10.1" fill="#fff" stroke="#6baed6" stroke-width="5"/>
<rect x="745.50" y="577.10" width="20" height="18.00" fill="#6baed6"/>
<circle cx="755.50" cy="586.10" r="10.1" fill="#fff" stroke="#6baed6" stroke-width="5"/>
<rect x="912.90" y="769.18" width="20" height="14.00" fill="#6baed6"/>
<circle cx="922.90" cy="776.18" r="10.1" fill="#fff" stroke="#6baed6" stroke-width="5"/>
<rect x="1080.30" y="752.30" width="20" height="24.00" fill="#6baed6"/>
<circle cx="1090.30" cy="764.30" r="10.1" fill="#fff" stroke="#6baed6" stroke-width="5"/>
<rect x="1247.70" y="758.42" width="20" height="31.20" fill="#6baed6"/>
<circle cx="1257.70" cy="774.02" r="10.1" fill="#fff" stroke="#6baed6" stroke-width="5"/>
<polyline points="253.30,794.32 420.70,737.30 588.10,657.49 755.50,611.48 922.90,771.32 1090.30,757.28 1257.70,761.06" fill="none" stroke="#3182bd" stroke-width="7" stroke-linejoin="round"/>
<rect x="243.30" y="780.82" width="20" height="27.00" fill="#3182bd"/>
<circle cx="253.30" cy="794.32" r="10.1" fill="#fff" stroke="#3182bd" stroke-width="5"/>
<rect x="410.70" y="725.80" width="20" height="23.00" fill="#3182bd"/>
<circle cx="420.70" cy="737.30" r="10.1" fill="#fff" stroke="#3182bd" stroke-width="5"/>
<rect x="578.10" y="651.49" width="20" height="12.00" fill="#3182bd"/>
<circle cx="588.10" cy="657.49" r="10.1" fill="#fff" stroke="#3182bd" stroke-width="5"/>
<rect x="745.50" y="599.68" width="20" height="23.60" fill="#3182bd"/>
<circle cx="755.50" cy="611.48" r="10.1" fill="#fff" stroke="#3182bd" stroke-width="5"/>
<rect x="912.90" y="764.32" width="20" height="14.00" fill="#3182bd"/>
<circle cx="922.90" cy="771.32" r="10.1" fill="#fff" stroke="#3182bd" stroke-width="5"/>
<rect x="1080.30" y="744.78" width="20" height="25.00" fill="#3182bd"/>
<circle cx="1090.30" cy="757.28" r="10.1" fill="#fff" stroke="#3182bd" stroke-width="5"/>
<rect x="1247.70" y="746.56" width="20" height="29.00" fill="#3182bd"/>
<circle cx="1257.70" cy="761.06" r="10.1" fill="#fff" stroke="#3182bd" stroke-width="5"/>
<circle cx="270.10" cy="667.30" r="4" fill="#8a8fc4" fill-opacity="0.9"/>
<circle cx="270.10" cy="727.00" r="4" fill="#8a8fc4" fill-opacity="0.9"/>
<circle cx="270.10" cy="734.00" r="4" fill="#8a8fc4" fill-opacity="0.9"/>
<circle cx="270.10" cy="690.90" r="4" fill="#bdd7e7" fill-opacity="0.9"/>
<circle cx="270.10" cy="694.00" r="4" fill="#bdd7e7" fill-opacity="0.9"/>
<circle cx="270.10" cy="717.00" r="4" fill="#bdd7e7" fill-opacity="0.9"/>
<circle cx="270.10" cy="754.00" r="4" fill="#bdd7e7" fill-opacity="0.9"/>
<circle cx="270.10" cy="841.40" r="4" fill="#bdd7e7" fill-opacity="0.9"/>
<circle cx="270.10" cy="880.00" r="4" fill="#bdd7e7" fill-opacity="0.9"/>
<circle cx="270.10" cy="707.50" r="4" fill="#6baed6" fill-opacity="0.9"/>
<circle cx="270.10" cy="723.00" r="4" fill="#6baed6" fill-opacity="0.9"/>
<circle cx="270.10" cy="731.00" r="4" fill="#6baed6" fill-opacity="0.9"/>
<circle cx="270.10" cy="757.50" r="4" fill="#6baed6" fill-opacity="0.9"/>
<circle cx="270.10" cy="767.00" r="4" fill="#6baed6" fill-opacity="0.9"/>
<circle cx="270.10" cy="781.40" r="4" fill="#6baed6" fill-opacity="0.9"/>
<circle cx="270.10" cy="798.80" r="4" fill="#6baed6" fill-opacity="0.9"/>
<circle cx="270.10" cy="806.00" r="4" fill="#6baed6" fill-opacity="0.9"/>
<circle cx="270.10" cy="810.00" r="4" fill="#6baed6" fill-opacity="0.9"/>
<circle cx="270.10" cy="813.70" r="4" fill="#6baed6" fill-opacity="0.9"/>
<circle cx="270.10" cy="853.80" r="4" fill="#6baed6" fill-opacity="0.9"/>
<circle cx="270.10" cy="741.00" r="4" fill="#3182bd" fill-opacity="0.9"/>
<circle cx="270.10" cy="745.00" r="4" fill="#3182bd" fill-opacity="0.9"/>
<circle cx="270.10" cy="761.60" r="4" fill="#3182bd" fill-opacity="0.9"/>
<circle cx="270.10" cy="776.40" r="4" fill="#3182bd" fill-opacity="0.9"/>
<circle cx="270.10" cy="789.00" r="4" fill="#3182bd" fill-opacity="0.9"/>
<circle cx="270.10" cy="794.00" r="4" fill="#3182bd" fill-opacity="0.9"/>
<circle cx="270.10" cy="821.00" r="4" fill="#3182bd" fill-opacity="0.9"/>
<circle cx="270.10" cy="826.00" r="4" fill="#3182bd" fill-opacity="0.9"/>
<circle cx="270.10" cy="866.70" r="4" fill="#3182bd" fill-opacity="0.9"/>
<circle cx="437.50" cy="725.00" r="4" fill="#8a8fc4" fill-opacity="0.9"/>
<circle cx="437.50" cy="729.00" r="4" fill="#8a8fc4" fill-opacity="0.9"/>
<circle cx="437.50" cy="742.00" r="4" fill="#8a8fc4" fill-opacity="0.9"/>
<circle cx="437.50" cy="750.00" r="4" fill="#8a8fc4" fill-opacity="0.9"/>
<circle cx="437.50" cy="760.00" r="4" fill="#8a8fc4" fill-opacity="0.9"/>
<circle cx="437.50" cy="765.00" r="4" fill="#8a8fc4" fill-opacity="0.9"/>
<circle cx="437.50" cy="769.00" r="4" fill="#8a8fc4" fill-opacity="0.9"/>
<circle cx="437.50" cy="817.00" r="4" fill="#8a8fc4" fill-opacity="0.9"/>
<circle cx="437.50" cy="748.00" r="4" fill="#bdd7e7" fill-opacity="0.9"/>
<circle cx="437.50" cy="787.00" r="4" fill="#bdd7e7" fill-opacity="0.9"/>
<circle cx="437.50" cy="795.00" r="4" fill="#bdd7e7" fill-opacity="0.9"/>
<circle cx="437.50" cy="798.50" r="4" fill="#bdd7e7" fill-opacity="0.9"/>
<circle cx="437.50" cy="827.50" r="4" fill="#bdd7e7" fill-opacity="0.9"/>
<circle cx="437.50" cy="731.50" r="4" fill="#6baed6" fill-opacity="0.9"/>
<circle cx="437.50" cy="783.00" r="4" fill="#6baed6" fill-opacity="0.9"/>
<circle cx="437.50" cy="803.00" r="4" fill="#6baed6" fill-opacity="0.9"/>
<circle cx="437.50" cy="807.00" r="4" fill="#6baed6" fill-opacity="0.9"/>
<circle cx="437.50" cy="811.00" r="4" fill="#6baed6" fill-opacity="0.9"/>
<circle cx="437.50" cy="698.30" r="4" fill="#3182bd" fill-opacity="0.9"/>
<circle cx="437.50" cy="712.00" r="4" fill="#3182bd" fill-opacity="0.9"/>
<circle cx="437.50" cy="716.00" r="4" fill="#3182bd" fill-opacity="0.9"/>
<circle cx="437.50" cy="738.00" r="4" fill="#3182bd" fill-opacity="0.9"/>
<circle cx="437.50" cy="755.50" r="4" fill="#3182bd" fill-opacity="0.9"/>
<circle cx="437.50" cy="775.00" r="4" fill="#3182bd" fill-opacity="0.9"/>
<circle cx="437.50" cy="778.00" r="4" fill="#3182bd" fill-opacity="0.9"/>
<circle cx="604.90" cy="829.50" r="4" fill="#8a8fc4" fill-opacity="0.9"/>
<circle cx="604.90" cy="832.00" r="4" fill="#8a8fc4" fill-opacity="0.9"/>
<circle cx="604.90" cy="844.00" r="4" fill="#8a8fc4" fill-opacity="0.9"/>
<circle cx="604.90" cy="853.20" r="4" fill="#8a8fc4" fill-opacity="0.9"/>
<circle cx="604.90" cy="861.00" r="4" fill="#8a8fc4" fill-opacity="0.9"/>
<circle cx="604.90" cy="868.00" r="4" fill="#8a8fc4" fill-opacity="0.9"/>
<circle cx="604.90" cy="898.50" r="4" fill="#8a8fc4" fill-opacity="0.9"/>
<circle cx="604.90" cy="901.50" r="4" fill="#8a8fc4" fill-opacity="0.9"/>
<circle cx="604.90" cy="770.60" r="4" fill="#bdd7e7" fill-opacity="0.9"/>
<circle cx="604.90" cy="776.00" r="4" fill="#bdd7e7" fill-opacity="0.9"/>
<circle cx="604.90" cy="782.00" r="4" fill="#bdd7e7" fill-opacity="0.9"/>
<circle cx="604.90" cy="789.00" r="4" fill="#bdd7e7" fill-opacity="0.9"/>
<circle cx="604.90" cy="797.80" r="4" fill="#bdd7e7" fill-opacity="0.9"/>
<circle cx="604.90" cy="812.00" r="4" fill="#bdd7e7" fill-opacity="0.9"/>
<circle cx="604.90" cy="838.70" r="4" fill="#bdd7e7" fill-opacity="0.9"/>
<circle cx="604.90" cy="699.00" r="4" fill="#6baed6" fill-opacity="0.9"/>
<circle cx="604.90" cy="704.60" r="4" fill="#6baed6" fill-opacity="0.9"/>
<circle cx="604.90" cy="720.40" r="4" fill="#6baed6" fill-opacity="0.9"/>
<circle cx="604.90" cy="727.60" r="4" fill="#6baed6" fill-opacity="0.9"/>
<circle cx="604.90" cy="732.00" r="4" fill="#6baed6" fill-opacity="0.9"/>
<circle cx="604.90" cy="736.00" r="4" fill="#6baed6" fill-opacity="0.9"/>
<circle cx="604.90" cy="746.00" r="4" fill="#6baed6" fill-opacity="0.9"/>
<circle cx="604.90" cy="753.40" r="4" fill="#6baed6" fill-opacity="0.9"/>
<circle cx="604.90" cy="630.00" r="4" fill="#3182bd" fill-opacity="0.9"/>
<circle cx="604.90" cy="650.00" r="4" fill="#3182bd" fill-opacity="0.9"/>
<circle cx="604.90" cy="655.00" r="4" fill="#3182bd" fill-opacity="0.9"/>
<circle cx="604.90" cy="660.00" r="4" fill="#3182bd" fill-opacity="0.9"/>
<circle cx="604.90" cy="664.50" r="4" fill="#3182bd" fill-opacity="0.9"/>
<circle cx="604.90" cy="681.70" r="4" fill="#3182bd" fill-opacity="0.9"/>
<circle cx="604.90" cy="686.00" r="4" fill="#3182bd" fill-opacity="0.9"/>
<circle cx="604.90" cy="710.40" r="4" fill="#3182bd" fill-opacity="0.9"/>
<circle cx="772.30" cy="493.70" r="4" fill="#8a8fc4" fill-opacity="0.9"/>
<circle cx="772.30" cy="504.00" r="4" fill="#8a8fc4" fill-opacity="0.9"/>
<circle cx="772.30" cy="514.30" r="4" fill="#8a8fc4" fill-opacity="0.9"/>
<circle cx="772.30" cy="538.40" r="4" fill="#8a8fc4" fill-opacity="0.9"/>
<circle cx="772.30" cy="528.60" r="4" fill="#bdd7e7" fill-opacity="0.9"/>
<circle cx="772.30" cy="543.50" r="4" fill="#bdd7e7" fill-opacity="0.9"/>
<circle cx="772.30" cy="547.00" r="4" fill="#bdd7e7" fill-opacity="0.9"/>
<circle cx="772.30" cy="550.40" r="4" fill="#bdd7e7" fill-opacity="0.9"/>
<circle cx="772.30" cy="572.70" r="4" fill="#6baed6" fill-opacity="0.9"/>
<circle cx="772.30" cy="577.90" r="4" fill="#6baed6" fill-opacity="0.9"/>
<circle cx="772.30" cy="558.00" r="4" fill="#3182bd" fill-opacity="0.9"/>
<circle cx="772.30" cy="564.00" r="4" fill="#3182bd" fill-opacity="0.9"/>
<circle cx="772.30" cy="581.30" r="4" fill="#3182bd" fill-opacity="0.9"/>
<circle cx="772.30" cy="590.70" r="4" fill="#3182bd" fill-opacity="0.9"/>
<circle cx="772.30" cy="601.90" r="4" fill="#3182bd" fill-opacity="0.9"/>
<circle cx="772.30" cy="614.80" r="4" fill="#3182bd" fill-opacity="0.9"/>
<circle cx="772.30" cy="629.40" r="4" fill="#3182bd" fill-opacity="0.9"/>
<circle cx="772.30" cy="637.00" r="4" fill="#3182bd" fill-opacity="0.9"/>
<circle cx="772.30" cy="645.70" r="4" fill="#3182bd" fill-opacity="0.9"/>
<circle cx="939.70" cy="709.00" r="4" fill="#8a8fc4" fill-opacity="0.9"/>
<circle cx="939.70" cy="713.50" r="4" fill="#8a8fc4" fill-opacity="0.9"/>
<circle cx="939.70" cy="734.70" r="4" fill="#bdd7e7" fill-opacity="0.9"/>
<circle cx="939.70" cy="746.00" r="4" fill="#6baed6" fill-opacity="0.9"/>
<circle cx="939.70" cy="807.50" r="4" fill="#6baed6" fill-opacity="0.9"/>
<circle cx="939.70" cy="816.90" r="4" fill="#6baed6" fill-opacity="0.9"/>
<circle cx="939.70" cy="728.00" r="4" fill="#3182bd" fill-opacity="0.9"/>
<circle cx="939.70" cy="755.40" r="4" fill="#3182bd" fill-opacity="0.9"/>
<circle cx="939.70" cy="763.50" r="4" fill="#3182bd" fill-opacity="0.9"/>
<circle cx="939.70" cy="772.80" r="4" fill="#3182bd" fill-opacity="0.9"/>
<circle cx="939.70" cy="778.00" r="4" fill="#3182bd" fill-opacity="0.9"/>
<circle cx="939.70" cy="783.00" r="4" fill="#3182bd" fill-opacity="0.9"/>
<circle cx="939.70" cy="788.00" r="4" fill="#3182bd" fill-opacity="0.9"/>
<circle cx="939.70" cy="794.00" r="4" fill="#3182bd" fill-opacity="0.9"/>
<circle cx="939.70" cy="802.90" r="4" fill="#3182bd" fill-opacity="0.9"/>
<circle cx="1107.10" cy="779.00" r="4" fill="#8a8fc4" fill-opacity="0.9"/>
<circle cx="1107.10" cy="783.00" r="4" fill="#bdd7e7" fill-opacity="0.9"/>
<circle cx="1107.10" cy="787.00" r="4" fill="#bdd7e7" fill-opacity="0.9"/>
<circle cx="1107.10" cy="790.00" r="4" fill="#bdd7e7" fill-opacity="0.9"/>
<circle cx="1107.10" cy="819.50" r="4" fill="#bdd7e7" fill-opacity="0.9"/>
<circle cx="1107.10" cy="836.00" r="4" fill="#bdd7e7" fill-opacity="0.9"/>
<circle cx="1107.10" cy="765.50" r="4" fill="#6baed6" fill-opacity="0.9"/>
<circle cx="1107.10" cy="773.50" r="4" fill="#6baed6" fill-opacity="0.9"/>
<circle cx="1107.10" cy="810.50" r="4" fill="#6baed6" fill-opacity="0.9"/>
<circle cx="1107.10" cy="824.00" r="4" fill="#6baed6" fill-opacity="0.9"/>
<circle cx="1107.10" cy="723.30" r="4" fill="#3182bd" fill-opacity="0.9"/>
<circle cx="1107.10" cy="730.50" r="4" fill="#3182bd" fill-opacity="0.9"/>
<circle cx="1107.10" cy="735.00" r="4" fill="#3182bd" fill-opacity="0.9"/>
<circle cx="1107.10" cy="749.00" r="4" fill="#3182bd" fill-opacity="0.9"/>
<circle cx="1107.10" cy="753.00" r="4" fill="#3182bd" fill-opacity="0.9"/>
<circle cx="1107.10" cy="758.00" r="4" fill="#3182bd" fill-opacity="0.9"/>
<circle cx="1107.10" cy="806.00" r="4" fill="#3182bd" fill-opacity="0.9"/>
<circle cx="1107.10" cy="833.50" r="4" fill="#3182bd" fill-opacity="0.9"/>
<circle cx="1274.50" cy="723.40" r="4" fill="#8a8fc4" fill-opacity="0.9"/>
<circle cx="1274.50" cy="767.00" r="4" fill="#8a8fc4" fill-opacity="0.9"/>
<circle cx="1274.50" cy="806.80" r="4" fill="#8a8fc4" fill-opacity="0.9"/>
<circle cx="1274.50" cy="827.60" r="4" fill="#8a8fc4" fill-opacity="0.9"/>
<circle cx="1274.50" cy="690.00" r="4" fill="#bdd7e7" fill-opacity="0.9"/>
<circle cx="1274.50" cy="701.70" r="4" fill="#bdd7e7" fill-opacity="0.9"/>
<circle cx="1274.50" cy="840.30" r="4" fill="#bdd7e7" fill-opacity="0.9"/>
<circle cx="1274.50" cy="732.50" r="4" fill="#6baed6" fill-opacity="0.9"/>
<circle cx="1274.50" cy="749.70" r="4" fill="#6baed6" fill-opacity="0.9"/>
<circle cx="1274.50" cy="800.40" r="4" fill="#6baed6" fill-opacity="0.9"/>
<circle cx="1274.50" cy="704.40" r="4" fill="#3182bd" fill-opacity="0.9"/>
<circle cx="1274.50" cy="709.00" r="4" fill="#3182bd" fill-opacity="0.9"/>
<circle cx="1274.50" cy="717.00" r="4" fill="#3182bd" fill-opacity="0.9"/>
<circle cx="1274.50" cy="727.00" r="4" fill="#3182bd" fill-opacity="0.9"/>
<circle cx="1274.50" cy="754.00" r="4" fill="#3182bd" fill-opacity="0.9"/>
<circle cx="1274.50" cy="759.70" r="4" fill="#3182bd" fill-opacity="0.9"/>
<circle cx="1274.50" cy="775.00" r="4" fill="#3182bd" fill-opacity="0.9"/>
<circle cx="1274.50" cy="783.00" r="4" fill="#3182bd" fill-opacity="0.9"/>
<circle cx="1274.50" cy="787.00" r="4" fill="#3182bd" fill-opacity="0.9"/>
<circle cx="1274.50" cy="790.50" r="4" fill="#3182bd" fill-opacity="0.9"/>
<circle cx="1274.50" cy="815.00" r="4" fill="#3182bd" fill-opacity="0.9"/>
<circle cx="1274.50" cy="818.50" r="4" fill="#3182bd" fill-opacity="0.9"/>
<circle cx="1274.50" cy="822.00" r="4" fill="#3182bd" fill-opacity="0.9"/>
<line x1="169.6" y1="742.5" x2="1341.4" y2="742.5" stroke="#666" stroke-width="4.8" stroke-dasharray="34.2 20.45"/>
<rect x="505.9" y="409.0" width="164.1" height="549.70" fill="#e8340a" fill-opacity="0.1"/>
<path d="M333.1,382 V400.8 H1267.4 V382" fill="none" stroke="#e8340a" stroke-width="3.4"/>
<line x1="642.2" y1="383.5" x2="642.2" y2="400.8" stroke="#e8340a" stroke-width="3.4"/>
<line x1="955.7" y1="383.5" x2="955.7" y2="400.8" stroke="#e8340a" stroke-width="3.4"/>
<line x1="587.2" y1="400.8" x2="587.2" y2="441" stroke="#e8340a" stroke-width="3.6"/>
<path d="M575,430 L587.2,437 L599.4,430 L587.2,459.2 Z" fill="#e8340a"/>
<circle cx="1180.1" cy="467.40" r="12.2" fill="#fff" stroke="#8a8fc4" stroke-width="5.2"/>
<text x="0" y="0" font-size="37" font-style="italic" fill="#000" transform="translate(1210.80,479.60) scale(0.93,1) translate(-1.85,0)">w</text>
<text x="1233.13" y="491.50" font-size="21.6" font-weight="normal" font-style="normal" fill="#000" >R</text>
<rect x="1260.00" y="465.15" width="18.20" height="2.70" fill="#000"/>
<rect x="1260.00" y="472.95" width="18.20" height="2.70" fill="#000"/>
<rect x="1290.10" y="468.05" width="20.00" height="2.70" fill="#000"/>
<path d="M0.247,0 L0.247,0.70 L0.168,0.70 C0.153,0.628 0.100,0.578 0,0.572 L0,0.502 L0.163,0.502 L0.163,0 Z" fill="#000" transform="translate(1314.20,479.60) scale(37,-37)"/>
<circle cx="1180.1" cy="513.50" r="12.2" fill="#fff" stroke="#bdd7e7" stroke-width="5.2"/>
<text x="0" y="0" font-size="37" font-style="italic" fill="#000" transform="translate(1210.80,525.70) scale(0.93,1) translate(-1.85,0)">w</text>
<text x="1233.13" y="537.60" font-size="21.6" font-weight="normal" font-style="normal" fill="#000" >R</text>
<rect x="1260.00" y="511.25" width="18.20" height="2.70" fill="#000"/>
<rect x="1260.00" y="519.05" width="18.20" height="2.70" fill="#000"/>
<text x="1289.06" y="525.70" font-size="37" font-weight="normal" font-style="normal" fill="#000" >0</text>
<circle cx="1180.1" cy="559.60" r="12.2" fill="#fff" stroke="#6baed6" stroke-width="5.2"/>
<text x="0" y="0" font-size="37" font-style="italic" fill="#000" transform="translate(1210.80,571.80) scale(0.93,1) translate(-1.85,0)">w</text>
<text x="1233.13" y="583.70" font-size="21.6" font-weight="normal" font-style="normal" fill="#000" >R</text>
<rect x="1260.00" y="557.35" width="18.20" height="2.70" fill="#000"/>
<rect x="1260.00" y="565.15" width="18.20" height="2.70" fill="#000"/>
<path d="M0.247,0 L0.247,0.70 L0.168,0.70 C0.153,0.628 0.100,0.578 0,0.572 L0,0.502 L0.163,0.502 L0.163,0 Z" fill="#000" transform="translate(1291.00,571.80) scale(37,-37)"/>
<circle cx="1180.1" cy="605.70" r="12.2" fill="#fff" stroke="#3182bd" stroke-width="5.2"/>
<text x="0" y="0" font-size="37" font-style="italic" fill="#000" transform="translate(1210.80,617.90) scale(0.93,1) translate(-1.85,0)">w</text>
<text x="1233.13" y="629.80" font-size="21.6" font-weight="normal" font-style="normal" fill="#000" >R</text>
<rect x="1260.00" y="603.45" width="18.20" height="2.70" fill="#000"/>
<rect x="1260.00" y="611.25" width="18.20" height="2.70" fill="#000"/>
<text x="1288.65" y="617.90" font-size="37" font-weight="normal" font-style="normal" fill="#000" >2</text>
</svg></body></html>
